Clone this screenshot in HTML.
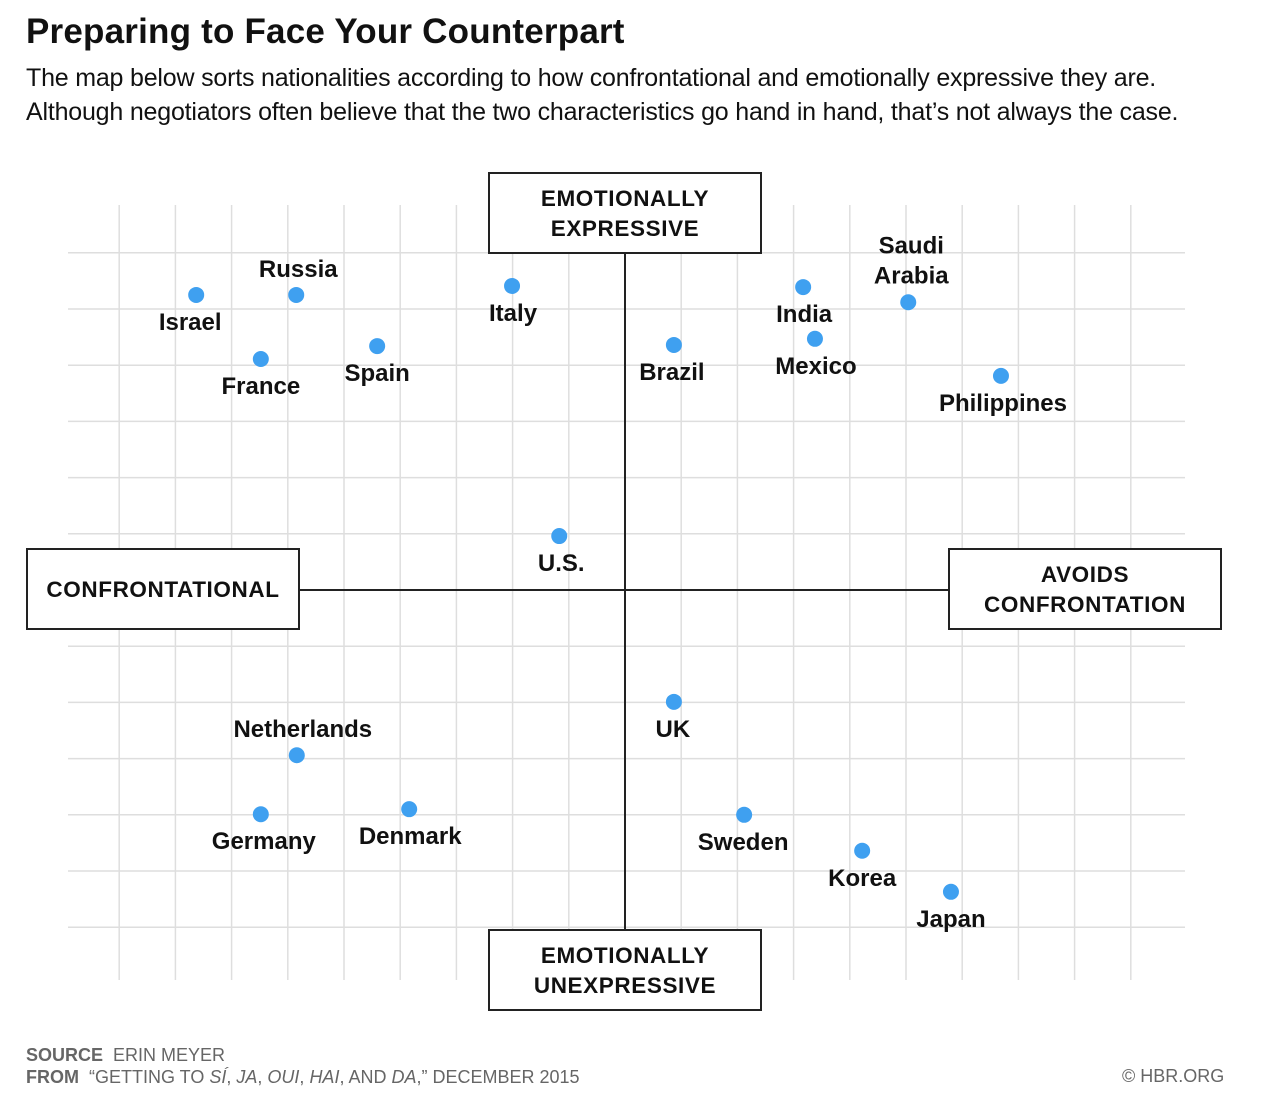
<!DOCTYPE html>
<html><head><meta charset="utf-8">
<style>
body{margin:0;background:#fff;width:1280px;height:1120px;overflow:hidden;font-family:"Liberation Sans",sans-serif}
h1{position:absolute;left:26px;top:12px;margin:0;font-size:35px;font-weight:bold;color:#111;letter-spacing:0.2px}
.sub{position:absolute;left:26px;top:61px;font-size:25px;line-height:34px;color:#111;letter-spacing:-0.2px;white-space:nowrap}
svg{position:absolute;left:0;top:0}
</style></head><body>
<h1>Preparing to Face Your Counterpart</h1>
<div class="sub">The map below sorts nationalities according to how confrontational and emotionally expressive they are.<br>Although negotiators often believe that the two characteristics go hand in hand, that’s not always the case.</div>
<svg id="chart" width="1280" height="1120"></svg>
<script>
const countries=["Israel","Russia","France","Spain","Italy","U.S.","Brazil","India","Mexico","Saudi Arabia","Philippines","Netherlands","Germany","Denmark","UK","Sweden","Korea","Japan"];
const confrontValues=[-7.63,-5.85,-6.48,-4.41,-2.01,-1.17,0.87,3.17,3.38,5.04,6.69,-5.84,-6.48,-3.84,0.87,2.12,4.22,5.80];
const expressValues=[5.25,5.25,4.11,4.34,5.41,0.96,4.36,5.39,4.47,5.12,3.81,-2.94,-3.99,-3.90,-1.99,-4.0,-4.64,-5.37];
const labelPlacement=["below","above","below","below","below","below","below","below","below","above2","below","above","below","below","below","below","below","below"];
const labelShiftX=[-6,2,0,0,1,2,-2,1,1,3,2,6,3,1,-1,-1,0,0];

const NS="http://www.w3.org/2000/svg";
const svg=document.getElementById('chart');
const cx=625,cy=590,u=56.2;
const X=v=>cx+v*u, Y=v=>cy-v*u;
function el(t,a,p){const e=document.createElementNS(NS,t);for(const k in a)e.setAttribute(k,a[k]);(p||svg).appendChild(e);return e;}
const grid=el('g',{});


for(let i=-9;i<=9;i++){el('line',{x1:X(i),x2:X(i),y1:205,y2:980,stroke:'#dedede','stroke-width':1.5},grid);}
for(let j=-6;j<=6;j++){el('line',{x1:68,x2:1185,y1:Y(j),y2:Y(j),stroke:'#dedede','stroke-width':1.5},grid);}
const ax1=el('line',{x1:625,x2:625,y1:253,y2:930,stroke:'#222','stroke-width':2});


const ax2=el('line',{x1:299,x2:949,y1:590,y2:590,stroke:'#222','stroke-width':2});


const boxes=[["top-axis-label",489,173,["EMOTIONALLY","EXPRESSIVE"]],["bottom-axis-label",489,930,["EMOTIONALLY","UNEXPRESSIVE"]],["left-axis-label",27,549,["CONFRONTATIONAL"]],["right-axis-label",949,549,["AVOIDS","CONFRONTATION"]]];
boxes.forEach(b=>{
  const g=el('g',{});
  
  
  el('rect',{x:b[1],y:b[2],width:272,height:80,fill:'#fff',stroke:'#222','stroke-width':2},g);
  const n=b[3].length;
  b[3].forEach((s,i)=>{const t=el('text',{x:b[1]+136,y:b[2]+48+(i-(n-1)/2)*30,'text-anchor':'middle','font-size':'22.5','font-weight':'bold',fill:'#111','letter-spacing':'0.6'},g);t.textContent=s;});
});
countries.forEach((c,i)=>{
  const g=el('g',{});
  
  
  const px=X(confrontValues[i]),py=Y(expressValues[i]);
  el('circle',{cx:px,cy:py,r:8,fill:'#3fa0f0'},g);
  const lx=px+labelShiftX[i];
  if(labelPlacement[i]==='above2'){
    const w=c.split(' ');
    [[w[0],-49],[w[1],-19]].forEach(p=>{const t=el('text',{x:lx,y:py+p[1],'text-anchor':'middle','font-size':'24','font-weight':'bold',fill:'#111'},g);t.textContent=p[0];});
  }else{
    const t=el('text',{x:lx,y:py+(labelPlacement[i]==='above'?-18:35),'text-anchor':'middle','font-size':'24','font-weight':'bold',fill:'#111'},g);t.textContent=c;
  }
});
</script>
<div style="position:absolute;left:26px;top:1044px;font-size:18px;line-height:22px;color:#666">
<b>SOURCE</b>&nbsp; ERIN MEYER<br><b>FROM</b>&nbsp; “GETTING TO <i>SÍ</i>, <i>JA</i>, <i>OUI</i>, <i>HAI</i>, AND <i>DA</i>,” DECEMBER 2015</div>
<div style="position:absolute;left:1122px;top:1066px;font-size:18px;color:#666">© HBR.ORG</div>
</body></html>
